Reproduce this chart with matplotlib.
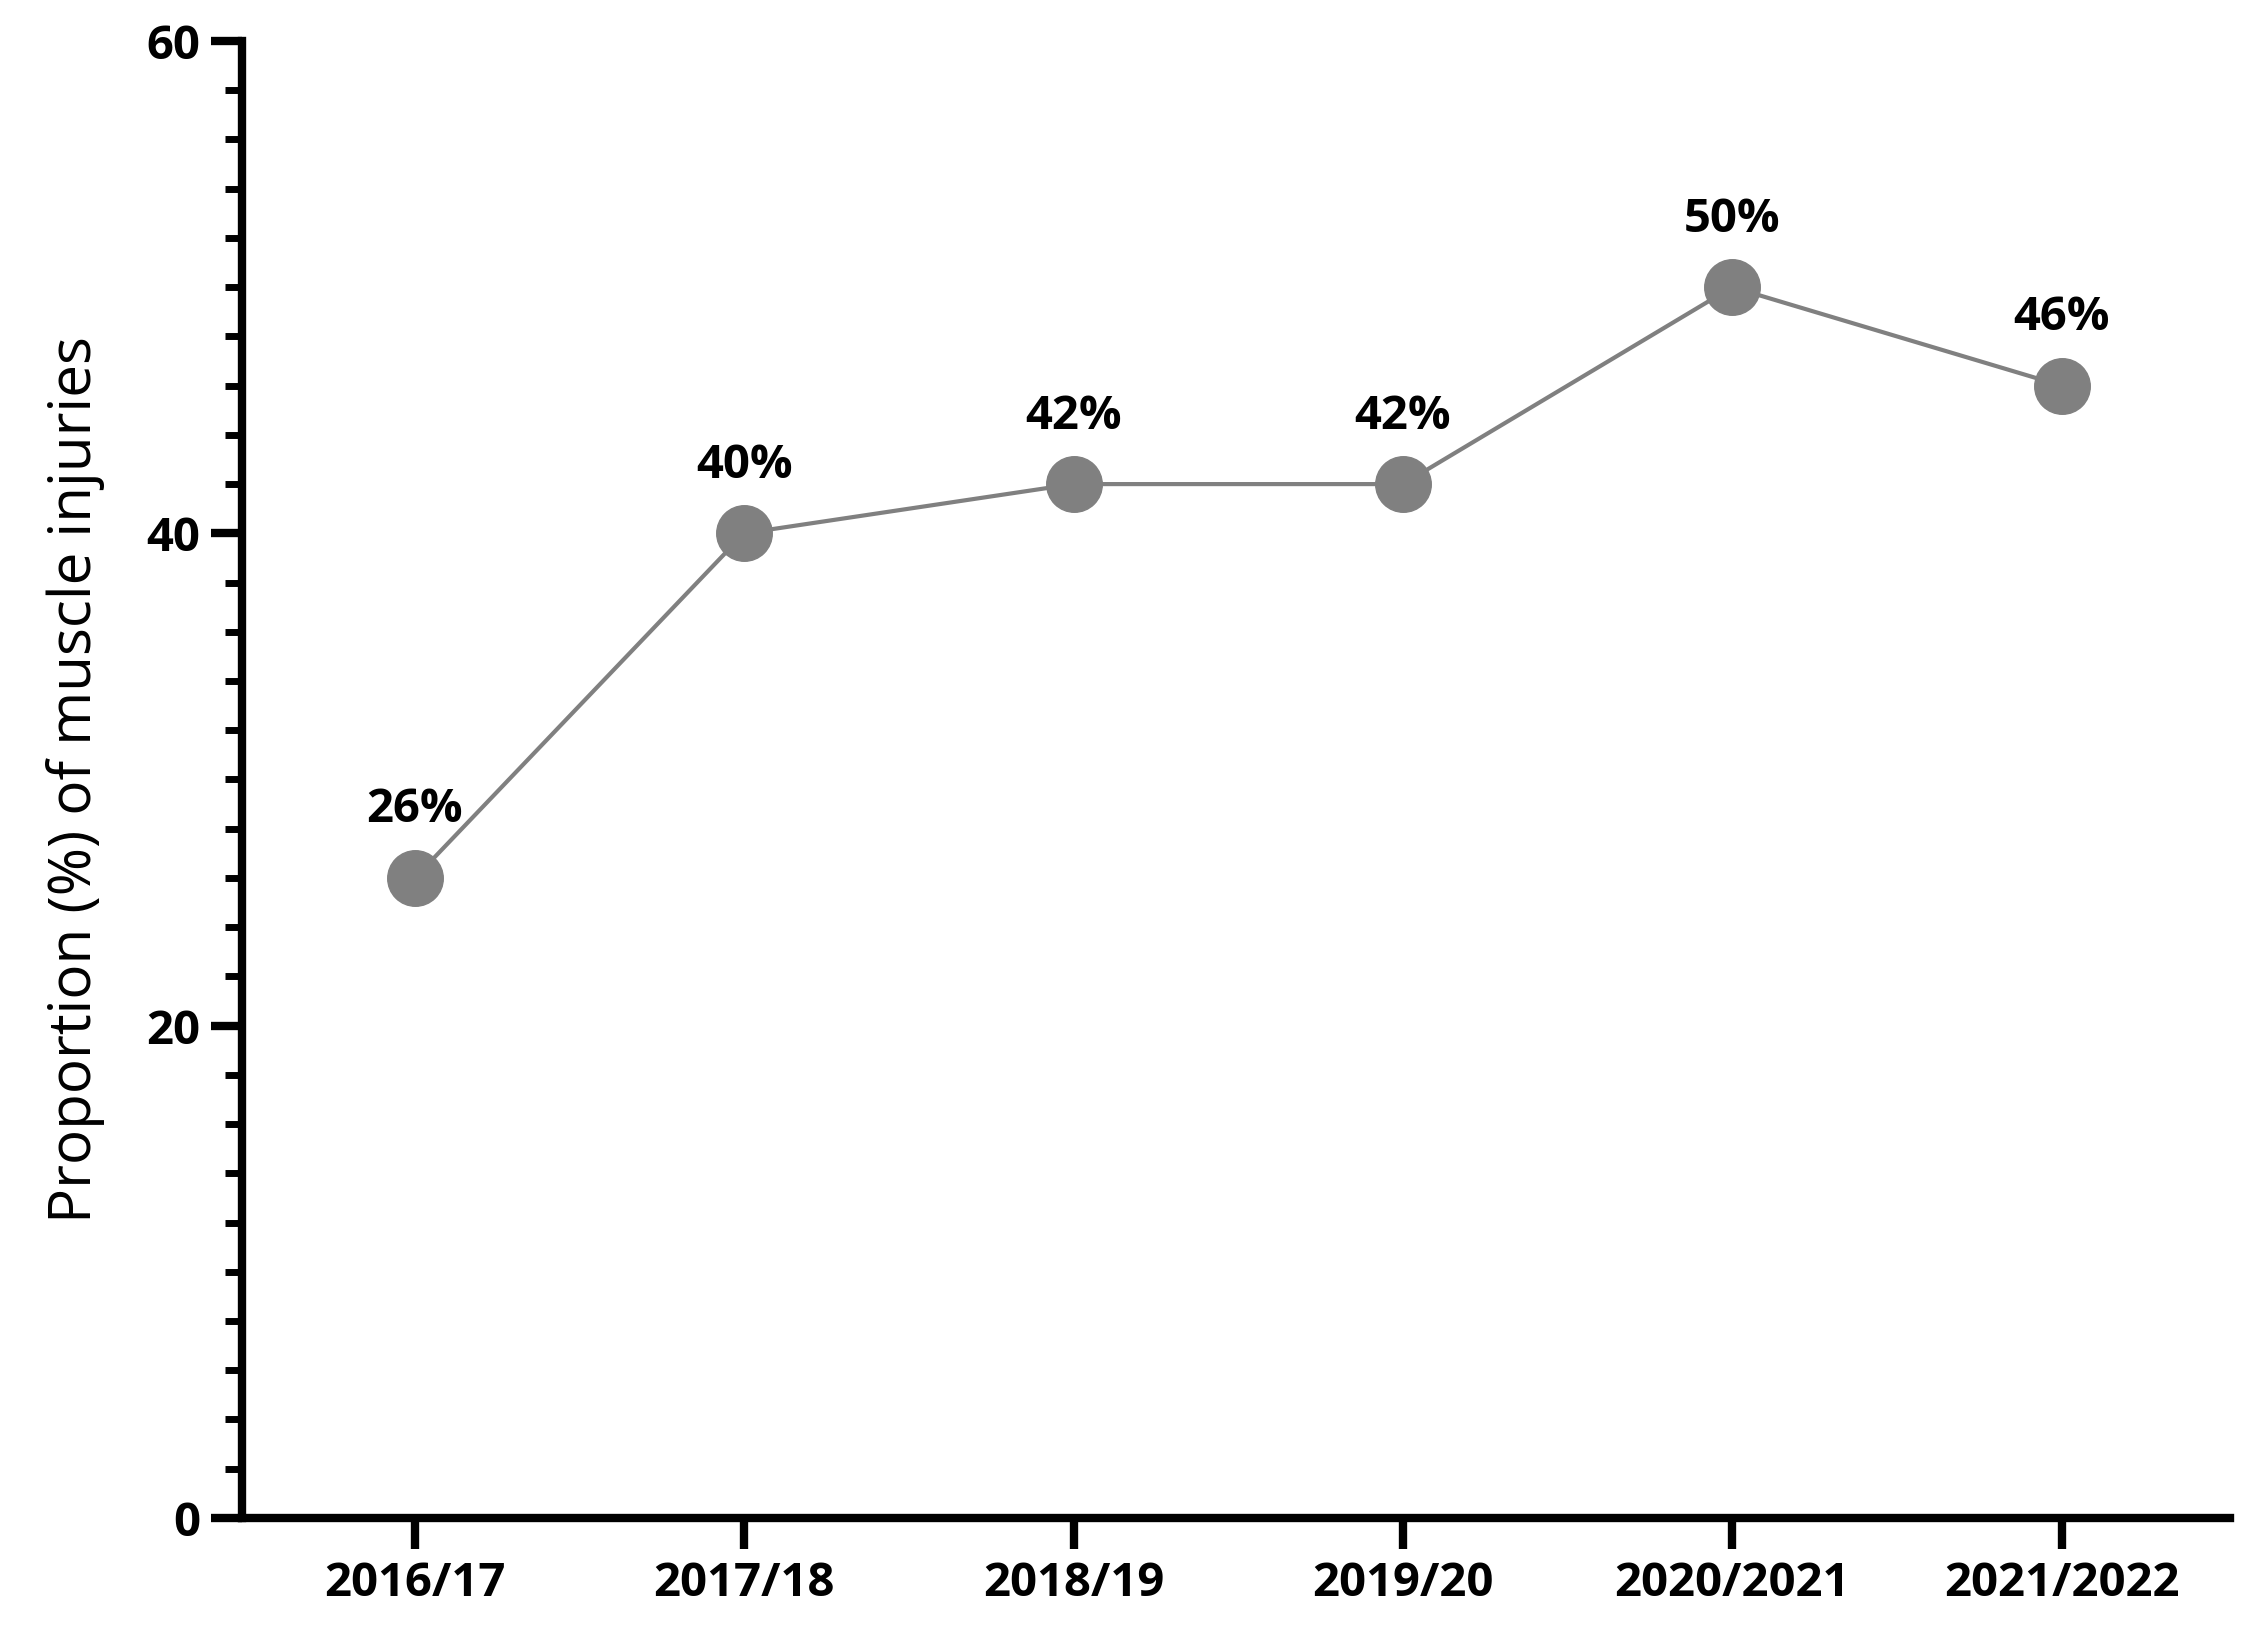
import matplotlib
matplotlib.use("Agg")
import matplotlib.pyplot as plt
from matplotlib.ticker import MultipleLocator

seasons = ["2016/17", "2017/18", "2018/19", "2019/20", "2020/2021", "2021/2022"]
values = [26, 40, 42, 42, 50, 46]
labels = ["26%", "40%", "42%", "42%", "50%", "46%"]

plt.rcParams['font.family'] = ['Open Sans', 'DejaVu Sans']
fig = plt.figure(figsize=(22.43, 16.41), dpi=100)
ax = fig.add_axes([0.108, 0.075, 0.886, 0.9])
x = list(range(len(seasons)))
ax.plot(x, values, color='#808080', lw=3, marker='o', ms=40, mfc='#808080', mec='#808080', zorder=3)
for xi, v, t in zip(x, values, labels):
    ax.annotate(t, (xi, v), xytext=(0, 32), textcoords='offset points', ha='center', va='bottom',
                fontsize=34, fontweight='bold')
ax.set_xlim(-0.524, 5.51)
ax.set_ylim(0, 60)
ax.set_xticks(x)
ax.set_xticklabels(seasons, fontsize=34, fontweight='bold')
ax.set_yticks([0, 20, 40, 60])
ax.set_yticklabels(['0', '20', '40', '60'], fontsize=34, fontweight='bold')
ax.yaxis.set_minor_locator(MultipleLocator(2))
ax.tick_params(axis='both', which='major', direction='out', length=22, width=6, pad=8)
ax.tick_params(axis='y', which='minor', direction='out', length=12, width=5)
ax.set_ylabel('Proportion (%) of muscle injuries', fontsize=42, labelpad=30)
for s in ['top', 'right']:
    ax.spines[s].set_visible(False)
for s in ['left', 'bottom']:
    ax.spines[s].set_linewidth(6)
ax.spines['left'].set_bounds(0, 60)
fig.savefig('out.png', dpi=100)
